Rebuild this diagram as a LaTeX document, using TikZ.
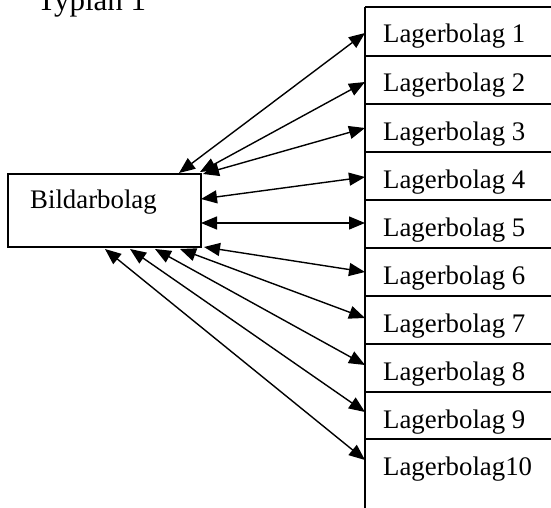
\documentclass[tikz,border=0pt]{standalone}
\usepackage{fontspec}
\setmainfont{Liberation Serif}
\usetikzlibrary{arrows.meta}
\begin{document}
\begin{tikzpicture}[x=1pt,y=-1pt,
  lab/.style={anchor=base west,inner sep=0pt,font=\fontsize{26.8}{30}\selectfont},
  conn/.style={line width=1.4pt,{Triangle[length=16pt,width=13pt]}-{Triangle[length=16pt,width=13pt]}},
  sep/.style={line width=1.5pt}]
\useasboundingbox (0,0) rectangle (551,508);
% title
\node[anchor=base west,inner sep=0pt,font=\fontsize{31}{34}\selectfont] (title) at (37,11) {Typlan 1};
% main box
\node[draw,line width=1.5pt,minimum width=193pt,minimum height=73pt,inner sep=0pt] (bild) at (104.5,210.5) {};
\node[lab] (bildtxt) at (30,208) {Bildarbolag};
% right column
\draw[line width=2pt] (365,7) -- (365,508);
\foreach \t in {7,56,104,152,200,248,296,344,392,439}{
  \draw[sep] (365,\t) -- (551,\t);
}
\node[lab] (l1) at (383,43) {Lagerbolag 1};
\node[lab] (l2) at (383,92) {Lagerbolag 2};
\node[lab] (l3) at (383,140) {Lagerbolag 3};
\node[lab] (l4) at (383,188) {Lagerbolag 4};
\node[lab] (l5) at (383,236) {Lagerbolag 5};
\node[lab] (l6) at (383,284) {Lagerbolag 6};
\node[lab] (l7) at (383,332) {Lagerbolag 7};
\node[lab] (l8) at (383,380) {Lagerbolag 8};
\node[lab] (l9) at (383,428) {Lagerbolag 9};
\node[lab] (l10) at (383,475) {Lagerbolag10};
% connector end points on the column
\coordinate (r1) at (365,33);
\coordinate (r2) at (365,82);
\coordinate (r3) at (365,128);
\coordinate (r4) at (365,177);
\coordinate (r5) at (365,223);
\coordinate (r6) at (365,272);
\coordinate (r7) at (365,318);
\coordinate (r8) at (365,365);
\coordinate (r9) at (365,412);
\coordinate (r10) at (365,460);
% connector end points on the box
\coordinate (b1) at (179,173);
\coordinate (b2) at (200,172);
\coordinate (b3) at (203,174);
\coordinate (b4) at (201,199);
\coordinate (b5) at (201,223);
\coordinate (b6) at (204,247);
\coordinate (b7) at (180,249);
\coordinate (b8) at (155,249);
\coordinate (b9) at (130,249);
\coordinate (b10) at (105,249);
\foreach \i in {1,...,10}{
  \draw[conn] (b\i) -- (r\i);
}
\end{tikzpicture}
\end{document}
